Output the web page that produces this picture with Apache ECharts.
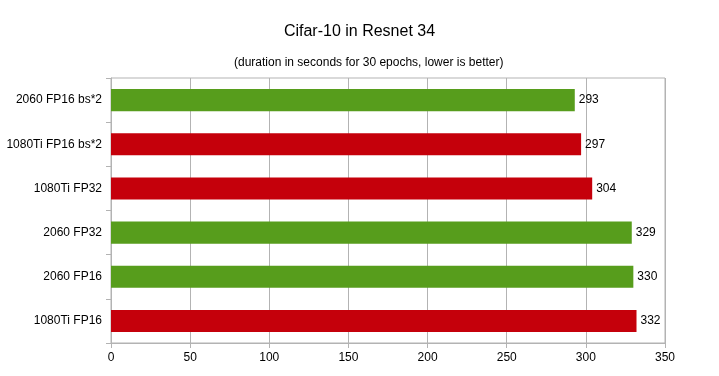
<!DOCTYPE html>
<html>
<head>
<meta charset="utf-8">
<script src="https://cdn.jsdelivr.net/npm/echarts@6/dist/echarts.min.js"></script>
<style>
  html, body { margin: 0; padding: 0; background: #fff; }
  #main { width: 719px; height: 376px; }
</style>
</head>
<body>
<div id="main"></div>
<script>
// data, top to bottom
var categories = ['2060 FP16 bs*2', '1080Ti FP16 bs*2', '1080Ti FP32', '2060 FP32', '2060 FP16', '1080Ti FP16'];
var durations = [293, 297, 304, 329, 330, 332];
var gpus = ['2060', '1080Ti', '1080Ti', '2060', '2060', '1080Ti'];
var xTicks = [0, 50, 100, 150, 200, 250, 300, 350];

var GREEN = '#579d1c', RED = '#c5000b';
var font = '"Liberation Sans", Arial, sans-serif';

var chart = echarts.init(document.getElementById('main'));
chart.setOption({
  backgroundColor: '#fff',
  animation: false,
  title: [
    { text: 'Cifar-10 in Resnet 34', left: 'center', top: 19,
      textStyle: { fontFamily: font, fontSize: 16, fontWeight: 'normal', color: '#000' } },
    { text: '(duration in seconds for 30 epochs, lower is better)', left: 229, top: 52,
      textStyle: { fontFamily: font, fontSize: 12, fontWeight: 'normal', color: '#000' } }
  ],
  grid: { left: 111, right: 54, top: 78, bottom: 33, show: true, borderColor: '#b3b3b3', borderWidth: 1 },
  xAxis: {
    type: 'value', min: xTicks[0], max: xTicks[xTicks.length - 1], interval: 50,
    axisLine: { show: true, lineStyle: { color: '#b3b3b3' } },
    axisTick: { show: true, length: 5, lineStyle: { color: '#b3b3b3' } },
    splitLine: { show: true, lineStyle: { color: '#b3b3b3' } },
    axisLabel: { color: '#000', fontFamily: font, fontSize: 12, margin: 9 }
  },
  yAxis: {
    type: 'category', data: categories, inverse: true,
    axisLine: { show: true, lineStyle: { color: '#b3b3b3' } },
    axisTick: { show: true, length: 5, lineStyle: { color: '#b3b3b3' } },
    splitLine: { show: false },
    axisLabel: { color: '#000', fontFamily: font, fontSize: 12, margin: 9 }
  },
  series: [{
    type: 'bar',
    barWidth: '50%',
    data: durations.map(function (v, i) {
      return { value: v, itemStyle: { color: gpus[i] === '2060' ? GREEN : RED } };
    }),
    label: { show: true, position: 'right', distance: 4, color: '#000', fontFamily: font, fontSize: 12 }
  }]
});
</script>
</body>
</html>
